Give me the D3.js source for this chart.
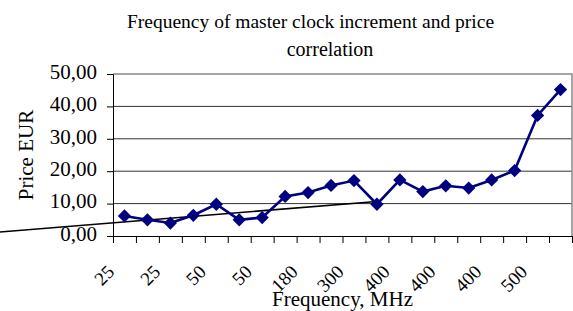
<!DOCTYPE html>
<html>
<head>
<meta charset="utf-8">
<script src="https://cdn.jsdelivr.net/npm/d3@7"></script>
<style>
  body { margin: 0; background: #fff; }
  svg { display: block; font-family: "Liberation Serif", "Times New Roman", serif; }
</style>
</head>
<body>
<div id="diagram"></div>
<script>
// chart values
const prices = [6.2, 5.0, 4.0, 6.4, 9.8, 5.0, 5.7, 12.2, 13.4, 15.6,
                17.1, 9.8, 17.3, 13.7, 15.5, 14.8, 17.3, 20.2, 37.2, 45.2];
// only every second category carries a label
const tickLabels = ['25', '25', '50', '50', '180', '300', '400', '400', '400', '500'];
const yTicks = [0, 10, 20, 30, 40, 50];
// hand drawn trend line, [category index, price]
const trendFrom = [-5.43, 1.24];
const trendTo = [11, 10.67];
const titleLines = ['Frequency of master clock increment and price', 'correlation'];

!(function () {
  'use strict'
  let
    canvas = {
      width: 573,
      height: 311,
      plot: { left: 113, right: 572, top: 74, bottom: 236 }
    },
    svg, xScale, yScale, yAxis, xAxis, fmt, p;

  p = canvas.plot;

  svg = d3.select('#diagram')
    .append('svg')
    .attr('width', canvas.width)
    .attr('height', canvas.height);

  // category positions are index + 0.5, ticks sit on the boundaries
  xScale = d3.scaleLinear()
    .domain([0, prices.length])
    .range([p.left, p.right]);

  yScale = d3.scaleLinear()
    .domain([0, 50])
    .range([p.bottom, p.top]);

  fmt = d3.formatLocale({ decimal: ',', thousands: '.', grouping: [3], currency: ['', ' EUR'] }).format('.2f');

  // gridlines
  svg.append('g')
    .selectAll('line')
    .data(yTicks.slice(1, -1))
    .join('line')
    .attr('x1', p.left)
    .attr('x2', p.right)
    .attr('y1', d => yScale(d))
    .attr('y2', d => yScale(d))
    .attr('stroke', '#333')
    .attr('stroke-width', 1);

  // top + right frame
  svg.append('path')
    .attr('d', 'M' + p.left + ',' + yScale(50) + 'H' + p.right + 'V' + p.bottom)
    .attr('fill', 'none')
    .attr('stroke', '#888')
    .attr('stroke-width', 1.5);

  yAxis = d3.axisLeft(yScale)
    .tickValues(yTicks)
    .tickSize(6)
    .tickPadding(10)
    .tickFormat(fmt);

  svg.append('g')
    .attr('transform', 'translate(' + p.left + ',0)')
    .call(yAxis)
    .call(g => g.select('.domain').attr('stroke', '#000'))
    .call(g => g.selectAll('text')
      .attr('font-size', 21)
      .attr('font-family', '"Liberation Serif", serif')
      .attr('fill', '#000')
      .attr('dy', '0.2em'));

  xAxis = d3.axisBottom(xScale)
    .tickValues(d3.range(prices.length + 1))
    .tickSize(7)
    .tickSizeOuter(0)
    .tickFormat('');

  svg.append('g')
    .attr('transform', 'translate(0,' + p.bottom + ')')
    .call(xAxis)
    .call(g => g.select('.domain').attr('stroke', '#000'));

  // rotated category labels
  svg.append('g')
    .selectAll('text')
    .data(tickLabels)
    .join('text')
    .attr('transform', (d, i) => 'translate(' + (xScale(i * 2 + 0.5) - 9) + ',' + (p.bottom + 37) + ') rotate(-45)')
    .attr('text-anchor', 'end')
    .attr('font-size', 19)
    .text(d => d);

  // trend line
  svg.append('line')
    .attr('x1', xScale(trendFrom[0] + 0.5))
    .attr('y1', yScale(trendFrom[1]))
    .attr('x2', xScale(trendTo[0] + 0.5))
    .attr('y2', yScale(trendTo[1]))
    .attr('stroke', '#000')
    .attr('stroke-width', 1.6);

  // price series
  svg.append('path')
    .datum(prices)
    .attr('d', d3.line()
      .x((d, i) => xScale(i + 0.5))
      .y(d => yScale(d)))
    .attr('fill', 'none')
    .attr('stroke', '#000080')
    .attr('stroke-width', 2.6);

  svg.append('g')
    .selectAll('path')
    .data(prices)
    .join('path')
    .attr('transform', (d, i) => 'translate(' + xScale(i + 0.5) + ',' + yScale(d) + ') rotate(45)')
    .attr('d', d3.symbol(d3.symbolSquare, 88))
    .attr('fill', '#000080');

  // titles
  svg.append('text')
    .attr('x', 310.5)
    .attr('y', 28)
    .attr('text-anchor', 'middle')
    .attr('font-size', 19.5)
    .text(titleLines[0]);

  svg.append('text')
    .attr('x', 330)
    .attr('y', 56)
    .attr('text-anchor', 'middle')
    .attr('font-size', 20)
    .text(titleLines[1]);

  svg.append('text')
    .attr('transform', 'translate(33,' + (p.top + p.bottom) / 2 + ') rotate(-90)')
    .attr('text-anchor', 'middle')
    .attr('font-size', 21)
    .text('Price EUR');

  svg.append('text')
    .attr('x', (p.left + p.right) / 2)
    .attr('y', 306)
    .attr('text-anchor', 'middle')
    .attr('font-size', 21)
    .text('Frequency, MHz');
}())
</script>
</body>
</html>
